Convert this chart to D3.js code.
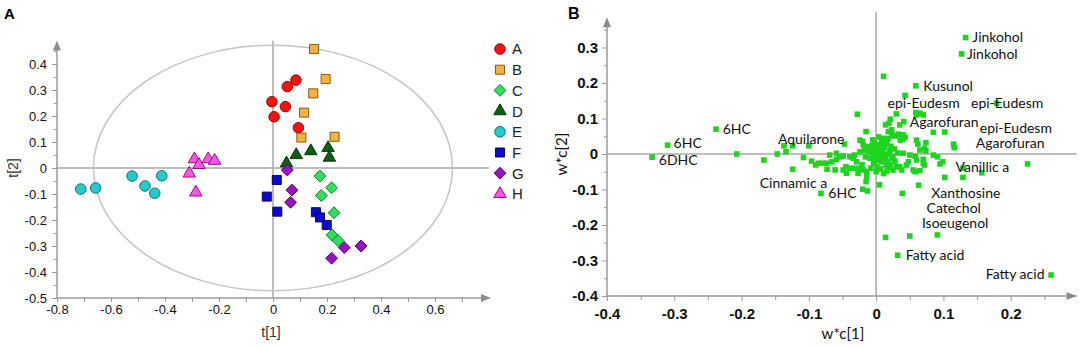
<!DOCTYPE html>
<html>
<head>
<meta charset="utf-8">
<script src="https://cdn.jsdelivr.net/npm/d3@7/dist/d3.min.js"></script>
<style>
  body { margin: 0; background: #fff; }
  svg { display: block; }
</style>
</head>
<body>
<svg id="chart" width="1084" height="348"></svg>
<script>
// ── Panel A: PCA score plot (t[1] vs t[2]) ─────────────────────────────────
const groups      = ['A', 'B', 'C', 'D', 'E', 'F', 'G', 'H'];
const groupShapes = ['circle', 'square', 'diamond', 'triangle', 'circle', 'square', 'diamond', 'triangle'];
const groupFills  = ['#ff1111', '#f5b142', '#2fe05a', '#0b5e12', '#22cccc', '#0a0ad2', '#9912c8', '#ff55e6'];
const groupLines  = ['#7a0000', '#7a5000', '#16702c', '#032a06', '#0e6464', '#00004a', '#480062', '#8a0078'];

const scoresA = [[0.085, 0.338], [0.053, 0.313], [-0.004, 0.255], [0.046, 0.236], [0.004, 0.197], [0.094, 0.155]];
const scoresB = [[0.152, 0.458], [0.195, 0.342], [0.149, 0.287], [0.115, 0.213], [0.105, 0.117], [0.228, 0.120]];
const scoresC = [[0.174, -0.031], [0.217, -0.076], [0.179, -0.106], [0.226, -0.172], [0.219, -0.258], [0.241, -0.279]];
const scoresD = [[0.050, 0.018], [0.086, 0.050], [0.140, 0.065], [0.204, 0.077], [0.209, 0.040]];
const scoresE = [[-0.712, -0.081], [-0.657, -0.077], [-0.522, -0.031], [-0.474, -0.069], [-0.438, -0.097], [-0.412, -0.030]];
const scoresF = [[0.014, -0.046], [-0.023, -0.110], [0.016, -0.168], [0.159, -0.170], [0.174, -0.190], [0.199, -0.219]];
const scoresG = [[0.053, -0.008], [0.070, -0.085], [0.065, -0.132], [0.264, -0.306], [0.326, -0.300], [0.217, -0.347]];
const scoresH = [[-0.291, 0.034], [-0.274, 0.012], [-0.240, 0.034], [-0.216, 0.028], [-0.310, -0.021], [-0.286, -0.094]];
const scoresByGroup = [scoresA, scoresB, scoresC, scoresD, scoresE, scoresF, scoresG, scoresH];

// Hotelling T2 (95%) ellipse radii
const ellipseT1 = 0.665, ellipseT2 = 0.472;

const ticksAx      = [-0.8, -0.6, -0.4, -0.2, 0, 0.2, 0.4, 0.6];
const ticksAxMinor = [-0.7, -0.5, -0.3, -0.1, 0.1, 0.3, 0.5, 0.7];
const ticksAy      = [-0.5, -0.4, -0.3, -0.2, -0.1, 0, 0.1, 0.2, 0.3, 0.4];
const ticksAyMinor = [-0.45, -0.35, -0.25, -0.15, -0.05, 0.05, 0.15, 0.25, 0.35, 0.45];

// ── Panel B: loadings plot (w*c[1] vs w*c[2]) ──────────────────────────────
const loadingsB = [
  // outlying / labelled
  [0.133, 0.328], [0.127, 0.282], [0.059, 0.192], [0.011, 0.219], [0.043, 0.165], [0.179, 0.143], [0.041, 0.091],
  [-0.310, 0.025], [-0.333, -0.009], [-0.238, 0.070], [-0.207, 0.000],
  [-0.082, -0.111], [0.157, -0.053], [0.225, -0.028], [0.032, -0.285], [0.260, -0.341],
  [0.014, -0.235], [0.050, -0.231], [0.091, -0.228],
  // left branch
  [-0.167, -0.017], [-0.147, 0.000], [-0.134, 0.006], [-0.137, 0.023], [-0.124, 0.023], [-0.124, -0.043], [-0.108, -0.010], [-0.100, 0.023],
  [-0.096, -0.020], [-0.090, -0.031], [-0.086, -0.026], [-0.080, -0.026], [-0.074, -0.026], [-0.073, -0.043], [-0.066, -0.022], [-0.069, -0.003],
  [-0.061, -0.045], [-0.059, -0.015], [-0.059, 0.002], [-0.054, -0.008], [-0.049, -0.006], [-0.049, -0.045], [-0.047, 0.028], [-0.045, -0.036],
  [-0.044, -0.054], [-0.039, -0.040], [-0.039, -0.008], [-0.034, -0.012], [-0.032, -0.003], [-0.032, -0.040], [-0.029, -0.022], [-0.027, -0.054],
  [-0.028, 0.112], [-0.024, 0.006], [-0.024, 0.039], [-0.024, -0.040], [-0.021, -0.030], [-0.020, 0.035], [-0.019, 0.025], [-0.019, -0.045],
  [-0.020, -0.099], [-0.015, 0.063], [-0.015, -0.078], [-0.014, -0.064], [-0.014, 0.016], [-0.014, -0.050], [-0.013, -0.104], [-0.017, 0.010],
  [-0.016, -0.008],
  // dense core
  [-0.012, 0.021], [-0.010, 0.004], [-0.009, -0.012], [-0.008, -0.040], [-0.007, 0.011], [-0.006, 0.024], [-0.005, 0.040], [-0.004, -0.003],
  [-0.004, -0.026], [-0.003, -0.015], [-0.002, 0.030], [-0.001, 0.006], [0.000, -0.050], [0.001, 0.016], [0.001, -0.036], [0.002, 0.026],
  [0.003, -0.008], [0.004, -0.018], [0.004, 0.048], [0.005, 0.011], [0.005, -0.087], [0.006, 0.003], [0.007, -0.042], [0.008, 0.039],
  [0.008, -0.022], [0.009, 0.027], [0.010, 0.011], [0.010, -0.003], [0.010, 0.044], [0.011, -0.055], [0.012, -0.014], [0.013, 0.019],
  [0.014, -0.006], [0.014, 0.082], [0.015, -0.031], [0.016, 0.032], [0.016, -0.048], [0.017, -0.022], [0.018, 0.000], [0.018, 0.063],
  [0.018, 0.044], [0.018, -0.038], [0.019, 0.086], [0.020, 0.008], [0.021, -0.030], [0.021, 0.098], [0.022, 0.022], [0.023, 0.068],
  [0.023, 0.060], [0.023, -0.012], [0.025, -0.008], [0.025, 0.051], [0.025, -0.045], [0.027, 0.014], [0.028, -0.020], [0.030, 0.113],
  [0.030, 0.051], [0.030, -0.036], [0.032, 0.003], [0.033, 0.056], [0.035, 0.082], [0.035, 0.054], [0.035, -0.036], [0.036, 0.039],
  [0.038, -0.045], [0.040, 0.042], [0.040, 0.054], [0.040, 0.002], [0.039, -0.111], [0.043, 0.047], [0.045, -0.031], [0.048, -0.022],
  [0.050, -0.003], [0.055, -0.045], [0.058, -0.050], [0.058, -0.006],
  // right branch
  [0.059, 0.117], [0.060, 0.110], [0.060, 0.039], [0.060, -0.017], [0.062, 0.028], [0.063, -0.088], [0.065, 0.115], [0.065, 0.011],
  [0.065, -0.047], [0.070, 0.110], [0.070, -0.015], [0.070, -0.026], [0.072, -0.031], [0.072, 0.016], [0.074, 0.032], [0.074, 0.009],
  [0.085, 0.061], [0.085, -0.003], [0.091, -0.008], [0.095, -0.028], [0.099, -0.022], [0.102, 0.062], [0.102, -0.066], [0.115, 0.028],
  [0.116, 0.018], [0.129, -0.066], [0.129, -0.040]
];

// compound labels: text, left edge (w*c[1]), middle (w*c[2])
const labelTexts = ['Jinkohol', 'Jinkohol', 'Kusunol', 'epi-Eudesm', 'epi-Eudesm', 'Agarofuran', 'epi-Eudesm', 'Agarofuran',
  'Vanillic a', 'Xanthosine', 'Catechol', 'Isoeugenol', 'Fatty acid', 'Fatty acid', '6HC', '6DHC', '6HC', 'Aquilarone',
  'Cinnamic a', '6HC'];
const labelX = [0.143, 0.135, 0.070, 0.017, 0.141, 0.050, 0.154, 0.148, 0.118, 0.082, 0.075, 0.068, 0.044, 0.163,
  -0.301, -0.323, -0.228, -0.146, -0.173, -0.071];
const labelY = [0.328, 0.282, 0.192, 0.143, 0.143, 0.091, 0.074, 0.030, -0.037, -0.111, -0.153, -0.195, -0.285, -0.339,
  0.032, -0.016, 0.070, 0.041, -0.083, -0.111];

const ticksBx      = [-0.4, -0.3, -0.2, -0.1, 0, 0.1, 0.2];
const ticksBxMinor = [-0.35, -0.25, -0.15, -0.05, 0.05, 0.15, 0.25];
const ticksBy      = [-0.4, -0.3, -0.2, -0.1, 0, 0.1, 0.2, 0.3];
const ticksByMinor = [-0.35, -0.25, -0.15, -0.05, 0.05, 0.15, 0.25, 0.35];

// ── Setup ──────────────────────────────────────────────────────────────────
const svg = d3.select('#chart');
const AXIS = '#9a9a9a', ZERO = '#a8a8a8';
const fmt = d => d === 0 ? '0' : d.toFixed(1);

function arrow(g, x, y, dir) {
  const p = dir === 'up'
    ? [[x, y], [x - 4, y + 10], [x + 4, y + 10]]
    : [[x, y], [x - 10, y - 4], [x - 10, y + 4]];
  g.append('path').attr('d', d3.line()(p) + 'Z').attr('fill', '#8c8c8c');
}

function styleAxis(g) {
  g.select('.domain').remove();
  g.selectAll('.tick line').attr('stroke', AXIS);
}

// ── Panel A ────────────────────────────────────────────────────────────────
const xA = d3.scaleLinear().domain([-0.8, 0.8]).range([57, 489]);
const yA = d3.scaleLinear().domain([-0.5, 0.5]).range([298, 38]);
const gA = svg.append('g');

// zero lines
gA.append('line').attr('x1', xA(-0.8)).attr('x2', xA(0.8)).attr('y1', yA(0)).attr('y2', yA(0))
  .attr('stroke', ZERO).attr('stroke-width', 1.5);
gA.append('line').attr('x1', xA(0)).attr('x2', xA(0)).attr('y1', yA(-0.5)).attr('y2', yA(0.49))
  .attr('stroke', ZERO).attr('stroke-width', 1.5);

// ellipse
gA.append('ellipse')
  .attr('cx', xA(0)).attr('cy', yA(0))
  .attr('rx', xA(ellipseT1) - xA(0)).attr('ry', yA(0) - yA(ellipseT2))
  .attr('fill', 'none').attr('stroke', '#c4c4c4').attr('stroke-width', 1.5);

// axes
gA.append('g').attr('transform', `translate(0,${yA(-0.5)})`)
  .call(d3.axisBottom(xA).tickValues(ticksAx).tickSize(4).tickPadding(3).tickFormat(fmt))
  .call(styleAxis)
  .call(g => g.selectAll('text').attr('font-family', 'Liberation Sans, Arial').attr('font-size', 13).attr('fill', '#111'));
gA.append('g').attr('transform', `translate(0,${yA(-0.5)})`)
  .call(d3.axisBottom(xA).tickValues(ticksAxMinor).tickSize(4).tickFormat(''))
  .call(styleAxis);
gA.append('g').attr('transform', `translate(${xA(-0.8)},0)`)
  .call(d3.axisLeft(yA).tickValues(ticksAy).tickSize(5).tickPadding(5).tickFormat(fmt))
  .call(styleAxis)
  .call(g => g.selectAll('text').attr('font-family', 'Liberation Sans, Arial').attr('font-size', 13).attr('fill', '#111'));
gA.append('g').attr('transform', `translate(${xA(-0.8)},0)`)
  .call(d3.axisLeft(yA).tickValues(ticksAyMinor).tickSize(3).tickFormat(''))
  .call(styleAxis);

gA.append('line').attr('x1', xA(-0.8)).attr('x2', xA(0.8)).attr('y1', yA(-0.5)).attr('y2', yA(-0.5))
  .attr('stroke', AXIS).attr('stroke-width', 1.5);
gA.append('line').attr('x1', xA(-0.8)).attr('x2', xA(-0.8)).attr('y1', yA(-0.5)).attr('y2', yA(0.48))
  .attr('stroke', AXIS).attr('stroke-width', 1.5);
arrow(gA, xA(0.8) + 2, yA(-0.5), 'right');
arrow(gA, xA(-0.8), yA(0.49), 'up');

// axis titles
gA.append('text').attr('x', 271).attr('y', 337).attr('text-anchor', 'middle')
  .attr('font-family', 'Liberation Sans, Arial').attr('font-size', 14).attr('fill', '#333').text('t[1]');
gA.append('text').attr('transform', `translate(18,${yA(0)}) rotate(-90)`).attr('text-anchor', 'middle')
  .attr('font-family', 'Liberation Sans, Arial').attr('font-size', 14).attr('fill', '#333').text('t[2]');
gA.append('text').attr('x', 4).attr('y', 19)
  .attr('font-family', 'Liberation Sans, Arial').attr('font-size', 15).attr('font-weight', 'bold').text('A');

// markers
const symType = { circle: d3.symbolCircle, square: d3.symbolSquare, diamond: d3.symbolSquare, triangle: d3.symbolTriangle };
const symSize = { circle: 88, square: 82, diamond: 70, triangle: 68 };
function marker(shape) { return d3.symbol().type(symType[shape]).size(symSize[shape])(); }

groups.forEach((grp, i) => {
  const shape = groupShapes[i];
  gA.append('g').selectAll('path')
    .data(scoresByGroup[i])
    .join('path')
      .attr('d', marker(shape))
      .attr('transform', d => `translate(${xA(d[0])},${yA(d[1])})` + (shape === 'diamond' ? ' rotate(45)' : ''))
      .attr('fill', groupFills[i]).attr('stroke', groupLines[i]).attr('stroke-width', 0.9);
});

// legend
const leg = gA.append('g');
groups.forEach((grp, i) => {
  const shape = groupShapes[i];
  const ly = 49 + i * 20.7;
  leg.append('path').attr('d', marker(shape))
    .attr('transform', `translate(500,${ly})` + (shape === 'diamond' ? ' rotate(45)' : ''))
    .attr('fill', groupFills[i]).attr('stroke', groupLines[i]).attr('stroke-width', 0.9);
  leg.append('text').attr('x', 512).attr('y', ly).attr('dy', '0.36em')
    .attr('font-family', 'Liberation Sans, Arial').attr('font-size', 15).attr('fill', '#222').text(grp);
});

// ── Panel B ────────────────────────────────────────────────────────────────
const xB = d3.scaleLinear().domain([-0.4, 0.3]).range([607, 1078]);
const yB = d3.scaleLinear().domain([-0.4, 0.4]).range([296, 12]);
const gB = svg.append('g');

gB.append('line').attr('x1', xB(-0.4)).attr('x2', xB(0.298)).attr('y1', yB(0)).attr('y2', yB(0))
  .attr('stroke', ZERO).attr('stroke-width', 1.5);
gB.append('line').attr('x1', xB(0)).attr('x2', xB(0)).attr('y1', yB(-0.4)).attr('y2', yB(0.4))
  .attr('stroke', ZERO).attr('stroke-width', 1.5);

gB.append('g').attr('transform', `translate(0,${yB(-0.4)})`)
  .call(d3.axisBottom(xB).tickValues(ticksBx).tickSize(5).tickPadding(7).tickFormat(fmt))
  .call(styleAxis)
  .call(g => g.selectAll('text').attr('font-family', 'Liberation Sans, Arial').attr('font-size', 15)
    .attr('font-weight', 'bold').attr('fill', '#111'));
gB.append('g').attr('transform', `translate(0,${yB(-0.4)})`)
  .call(d3.axisBottom(xB).tickValues(ticksBxMinor).tickSize(4).tickFormat(''))
  .call(styleAxis);
gB.append('g').attr('transform', `translate(${xB(-0.4)},0)`)
  .call(d3.axisLeft(yB).tickValues(ticksBy).tickSize(5).tickPadding(4).tickFormat(fmt))
  .call(styleAxis)
  .call(g => g.selectAll('text').attr('font-family', 'Liberation Sans, Arial').attr('font-size', 15)
    .attr('font-weight', 'bold').attr('fill', '#111'));
gB.append('g').attr('transform', `translate(${xB(-0.4)},0)`)
  .call(d3.axisLeft(yB).tickValues(ticksByMinor).tickSize(3).tickFormat(''))
  .call(styleAxis);

gB.append('line').attr('x1', xB(-0.4)).attr('x2', xB(0.298)).attr('y1', yB(-0.4)).attr('y2', yB(-0.4))
  .attr('stroke', AXIS).attr('stroke-width', 1.5);
gB.append('line').attr('x1', xB(-0.4)).attr('x2', xB(-0.4)).attr('y1', yB(-0.4)).attr('y2', yB(0.37))
  .attr('stroke', AXIS).attr('stroke-width', 1.5);
arrow(gB, xB(0.298), yB(-0.4), 'right');
arrow(gB, xB(-0.4), yB(0.385), 'up');

gB.append('text').attr('x', 843).attr('y', 339).attr('text-anchor', 'middle')
  .attr('font-family', 'Lato, sans-serif').attr('font-size', 15).attr('fill', '#111').text('w*c[1]');
gB.append('text').attr('transform', `translate(567,${yB(0)}) rotate(-90)`).attr('text-anchor', 'middle')
  .attr('font-family', 'Lato, sans-serif').attr('font-size', 15).attr('fill', '#111').text('w*c[2]');
gB.append('text').attr('x', 568).attr('y', 19)
  .attr('font-family', 'Liberation Sans, Arial').attr('font-size', 16).attr('font-weight', 'bold').text('B');

gB.append('g').selectAll('rect')
  .data(loadingsB)
  .join('rect')
    .attr('x', d => xB(d[0]) - 2.8).attr('y', d => yB(d[1]) - 2.8)
    .attr('width', 5.6).attr('height', 5.6)
    .attr('fill', '#1fd41f');

gB.append('g').selectAll('text')
  .data(labelTexts)
  .join('text')
    .attr('x', (d, i) => xB(labelX[i]))
    .attr('y', (d, i) => yB(labelY[i]))
    .attr('dy', '0.35em')
    .attr('font-family', 'Lato, sans-serif').attr('font-size', 14).attr('fill', '#111')
    .text(d => d);
</script>
</body>
</html>
